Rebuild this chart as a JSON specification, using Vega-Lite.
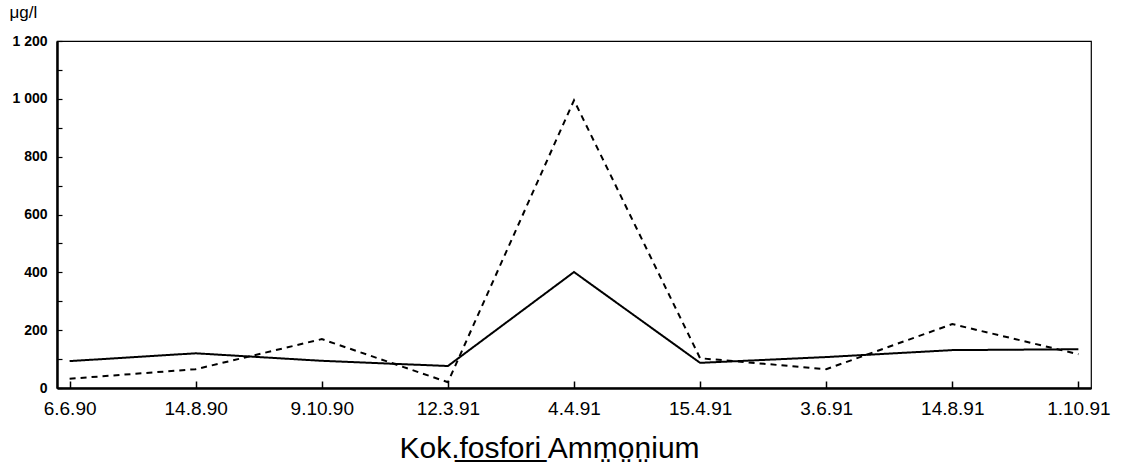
{
  "$schema": "https://vega.github.io/schema/vega-lite/v6.json",
  "autosize": "none",
  "width": 1034,
  "height": 347,
  "padding": {"left": 57, "top": 41, "right": 33, "bottom": 78},
  "background": "white",
  "config": {
    "font": "Liberation Sans",
    "view": {"stroke": "black", "strokeWidth": 1.2},
    "axis": {"grid": false, "domainColor": "black", "tickColor": "black", "labelColor": "black", "titleColor": "black"}
  },
  "data": {
    "values": [
      {"date": "6.6.90", "series": "Kok.fosfori", "value": 93},
      {"date": "14.8.90", "series": "Kok.fosfori", "value": 120},
      {"date": "9.10.90", "series": "Kok.fosfori", "value": 94},
      {"date": "12.3.91", "series": "Kok.fosfori", "value": 76},
      {"date": "4.4.91", "series": "Kok.fosfori", "value": 401},
      {"date": "15.4.91", "series": "Kok.fosfori", "value": 87},
      {"date": "3.6.91", "series": "Kok.fosfori", "value": 107},
      {"date": "14.8.91", "series": "Kok.fosfori", "value": 131},
      {"date": "1.10.91", "series": "Kok.fosfori", "value": 134},
      {"date": "6.6.90", "series": "Ammonium", "value": 32},
      {"date": "14.8.90", "series": "Ammonium", "value": 65},
      {"date": "9.10.90", "series": "Ammonium", "value": 169},
      {"date": "12.3.91", "series": "Ammonium", "value": 20},
      {"date": "4.4.91", "series": "Ammonium", "value": 995},
      {"date": "15.4.91", "series": "Ammonium", "value": 103},
      {"date": "3.6.91", "series": "Ammonium", "value": 65},
      {"date": "14.8.91", "series": "Ammonium", "value": 221},
      {"date": "1.10.91", "series": "Ammonium", "value": 117}
    ]
  },
  "mark": {"type": "line", "color": "black", "strokeWidth": 2},
  "encoding": {
    "x": {
      "field": "date",
      "type": "ordinal",
      "sort": null,
      "scale": {"type": "point", "padding": 0.1},
      "axis": {
        "title": "Kok.f̲o̲s̲f̲o̲r̲i̲ Amm̤o̤n̤ium",
        "titleFontSize": 30,
        "titleFontWeight": "normal",
        "titlePadding": 15,
        "titleX": 492,
        "labelFontSize": 19,
        "labelFontWeight": "normal",
        "labelPadding": 18,
        "tickSize": -7,
        "tickWidth": 1.5,
        "domainWidth": 2.5,
        "labelAngle": 0
      }
    },
    "y": {
      "field": "value",
      "type": "quantitative",
      "scale": {"domain": [0, 1200], "nice": false},
      "axis": {
        "values": [0, 100, 200, 300, 400, 500, 600, 700, 800, 900, 1000, 1100, 1200],
        "labelExpr": "datum.value % 200 === 0 ? replace(format(datum.value, ','), ',', ' ') : ''",
        "labelFontSize": 14,
        "labelFontWeight": "bold",
        "labelPadding": 15,
        "tickSize": -5,
        "tickWidth": 1.2,
        "domainWidth": 2.5,
        "title": "μg/l",
        "titleAngle": 0,
        "titleFontSize": 17,
        "titleFontWeight": "normal",
        "titleAlign": "left",
        "titleBaseline": "alphabetic",
        "titleX": -48,
        "titleY": -24
      }
    },
    "detail": {"field": "series"},
    "strokeDash": {
      "field": "series",
      "type": "nominal",
      "scale": {"domain": ["Kok.fosfori", "Ammonium"], "range": [[1, 0], [6, 5]]},
      "legend": null
    }
  }
}
